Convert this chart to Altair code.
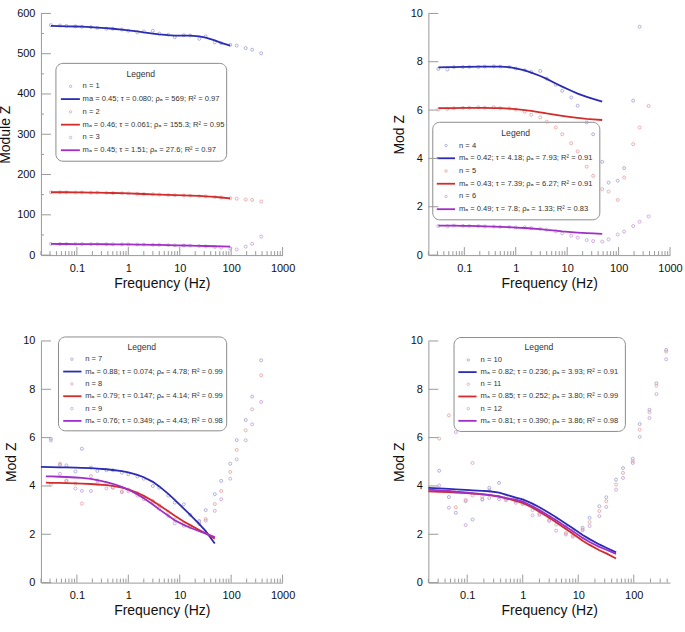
import altair as alt
import pandas as pd

FONT = "Liberation Sans, Arial, DejaVu Sans, sans-serif"

# measurement frequencies (Hz)
FREQ = [0.03125, 0.046875, 0.0625, 0.09375, 0.125, 0.1875, 0.25, 0.375, 0.5, 0.75,
        1, 1.5, 2, 3, 4, 6, 8, 12, 16, 24, 32, 48, 64, 96, 128, 192, 256, 384]
FIT_F96 = FREQ[:24]
FIT_F48 = FREQ[:22]
FIT_F48_A = [0.02] + FREQ[:22]
FIT_F48_B = [0.025] + FREQ[:22]

# ---------- panel 1 (Module Z) ----------
N1 = [571, 570, 569, 568, 567, 566, 564, 562, 562, 560, 557, 553, 555, 557, 550, 547, 541, 546, 545, 537, 543, 528, 526, 522, 520, 514, 510, 501]
N2 = [156, 156, 156, 155.5, 155.5, 155, 155, 154.5, 154, 153.5, 153, 152, 151.5, 151, 150, 149, 148.5, 148, 147.5, 146, 146, 144, 143, 141, 140, 138, 137, 133]
N3 = [27.8, 27.6, 27.6, 27.5, 27.4, 27.3, 27.2, 27.0, 26.9, 26.7, 26.5, 26.2, 25.9, 25.6, 25.2, 24.8, 24.3, 23.8, 23.3, 22.5, 21.5, 20, 18.5, 16, 14, 21, 28, 46]
FIT1 = [569, 568.5, 568, 567.5, 567, 566, 565, 563.5, 562, 560, 558, 555.5, 553, 550, 548, 546, 545, 545, 545, 543, 540, 533, 527, 520]
FIT2 = [156, 156, 156, 155.8, 155.6, 155.3, 155, 154.6, 154.2, 153.6, 153, 152.3, 151.7, 150.8, 150.2, 149.3, 148.7, 148, 147.5, 146.8, 146, 144.5, 143, 141]
FIT3 = [27.6, 27.5, 27.5, 27.4, 27.3, 27.2, 27.1, 26.9, 26.8, 26.6, 26.4, 26.1, 25.8, 25.4, 25.1, 24.6, 24.3, 23.8, 23.4, 22.9, 22.5, 21.9, 21.5, 21]

# ---------- panel 2 ----------
N4 = [7.70, 7.68, 7.78, 7.78, 7.79, 7.78, 7.80, 7.81, 7.80, 7.78, 7.72, 7.65, 7.58, 7.62, 7.30, 7.05, 6.80, 6.52, 6.18, 5.49, 5.00, 3.86, 3.00, 3.08, 3.60, 6.39, 9.45, None]
N5 = [6.02, 6.05, 6.08, 6.09, 6.10, 6.12, 6.10, 6.12, 6.08, 6.07, 6.02, 5.93, 5.81, 5.70, 5.52, 5.28, 5.00, 4.63, 4.29, 3.66, 3.28, 2.73, 2.63, 2.28, 3.21, 4.59, 5.28, 6.17]
N6 = [1.20, 1.19, 1.22, 1.21, 1.20, 1.20, 1.19, 1.18, 1.17, 1.16, 1.15, 1.15, 1.12, 1.08, 1.05, 0.98, 0.90, 0.80, 0.72, 0.62, 0.58, 0.56, 0.65, 0.85, 0.97, 1.20, 1.38, 1.60]
FIT4 = [7.77, 7.78, 7.78, 7.79, 7.79, 7.80, 7.80, 7.80, 7.80, 7.78, 7.73, 7.64, 7.55, 7.41, 7.29, 7.10, 6.97, 6.80, 6.68, 6.55, 6.46, 6.35]
FIT5 = [6.08, 6.08, 6.08, 6.09, 6.09, 6.09, 6.09, 6.08, 6.08, 6.06, 6.04, 6.00, 5.97, 5.91, 5.86, 5.80, 5.76, 5.71, 5.68, 5.64, 5.62, 5.59]
FIT6 = [1.22, 1.22, 1.22, 1.21, 1.21, 1.20, 1.19, 1.18, 1.17, 1.16, 1.14, 1.12, 1.10, 1.07, 1.04, 1.01, 0.98, 0.95, 0.93, 0.91, 0.90, 0.88]

# ---------- panel 3 ----------
N7 = [5.95, 4.87, 4.85, 4.60, 5.54, 4.76, 4.62, 4.65, 4.65, 4.55, 4.48, 4.39, 4.30, 4.00, 3.93, 3.60, 3.31, 3.24, 2.80, 2.55, 3.00, 3.66, 4.21, 4.92, 5.90, 6.73, 7.70, 9.20]
N8 = [4.05, 4.92, 4.23, 4.10, 3.27, 4.41, 4.23, 4.10, 3.93, 3.77, 3.85, 3.70, 3.55, 3.38, 3.20, 2.90, 2.60, 2.45, 2.35, 2.50, 2.63, 3.25, 3.79, 4.58, 5.49, 6.30, 7.17, 8.58]
N9 = [5.88, 4.50, 4.20, 3.89, 3.80, 3.79, 4.10, 3.90, 3.93, 3.74, 3.78, 3.60, 3.45, 3.30, 3.05, 2.75, 2.45, 2.35, 2.30, 2.42, 2.56, 2.97, 3.45, 4.30, 5.10, 5.89, 6.55, 7.48]
FIT7 = [4.79, 4.78, 4.77, 4.77, 4.76, 4.75, 4.74, 4.72, 4.69, 4.66, 4.61, 4.56, 4.46, 4.36, 4.17, 3.98, 3.67, 3.42, 3.06, 2.80, 2.42, 2.13, 1.62]
FIT8 = [4.14, 4.13, 4.13, 4.12, 4.11, 4.10, 4.08, 4.06, 4.03, 4.00, 3.93, 3.86, 3.72, 3.59, 3.38, 3.20, 2.95, 2.77, 2.53, 2.38, 2.18, 2.04, 1.82]
FIT9 = [4.40, 4.40, 4.38, 4.37, 4.35, 4.33, 4.29, 4.24, 4.16, 4.09, 3.96, 3.85, 3.65, 3.49, 3.23, 3.03, 2.77, 2.58, 2.39, 2.27, 2.13, 2.03, 1.88]

# ---------- panel 4 ----------
N10 = [4.63, 3.54, 2.89, 3.37, 2.61, 3.44, 3.92, 4.13, 3.55, 3.40, 3.35, 3.15, 2.95, 2.72, 2.61, 2.30, 2.15, 2.27, 2.68, 3.16, 3.53, 4.26, 4.74, 5.13, 6.56, 7.15, 8.25, 9.63]
N11 = [5.96, 6.92, 3.12, 3.42, 4.95, 3.55, 3.81, 3.55, 3.45, 3.37, 3.28, 3.00, 2.85, 2.60, 2.40, 2.05, 1.95, 2.16, 2.50, 2.96, 3.37, 4.06, 4.54, 5.02, 6.33, 7.05, 8.15, 9.56]
N12 = [4.02, 3.10, 6.23, 2.38, 3.60, 3.44, 3.50, 3.45, 3.40, 3.30, 3.25, 2.78, 2.80, 2.55, 2.15, 1.99, 1.90, 2.20, 2.34, 2.75, 3.13, 3.85, 4.33, 4.95, 6.03, 6.81, 7.80, 9.24]
FIT10 = [3.92, 3.90, 3.88, 3.86, 3.84, 3.82, 3.80, 3.78, 3.72, 3.64, 3.52, 3.44, 3.27, 3.12, 2.88, 2.70, 2.44, 2.25, 1.97, 1.80, 1.58, 1.44, 1.25]
FIT11 = [3.78, 3.76, 3.74, 3.72, 3.70, 3.68, 3.65, 3.62, 3.56, 3.49, 3.38, 3.30, 3.10, 2.93, 2.68, 2.50, 2.22, 2.02, 1.73, 1.56, 1.34, 1.21, 1.00]
FIT12 = [3.85, 3.82, 3.79, 3.76, 3.73, 3.70, 3.66, 3.63, 3.57, 3.50, 3.43, 3.35, 3.16, 3.00, 2.76, 2.58, 2.31, 2.12, 1.85, 1.68, 1.48, 1.36, 1.19]

# legend texts
LEG_TEXT = [
    ["n = 1", "ma = 0.45; τ = 0.080; ρₐ = 569; R² = 0.97", "n = 2", "mₐ = 0.46; τ = 0.061; ρₐ = 155.3; R² = 0.95", "n = 3", "mₐ = 0.45; τ = 1.51; ρₐ = 27.6; R² = 0.97"],
    ["n = 4", "mₐ = 0.42; τ = 4.18; ρₐ = 7.93; R² = 0.91", "n = 5", "mₐ = 0.43; τ = 7.39; ρₐ = 6.27; R² = 0.91", "n = 6", "mₐ = 0.49; τ = 7.8; ρₐ = 1.33; R² = 0.83"],
    ["n = 7", "mₐ = 0.88; τ = 0.074; ρₐ = 4.78; R² = 0.99", "n = 8", "mₐ = 0.79; τ = 0.147; ρₐ = 4.14; R² = 0.99", "n = 9", "mₐ = 0.76; τ = 0.349; ρₐ = 4.43; R² = 0.98"],
    ["n = 10", "mₐ = 0.82; τ = 0.236; ρₐ = 3.93; R² = 0.91", "n = 11", "mₐ = 0.85; τ = 0.252; ρₐ = 3.80; R² = 0.99", "n = 12", "mₐ = 0.81; τ = 0.390; ρₐ = 3.86; R² = 0.98"],
]

LINE_COLORS = ["#2b2bb3", "#d42b2b", "#a02fc6"]
PT_COLORS = ["#9a9ad0", "#e09c9c", "#c29ad4"]
AX = "#9a9a9a"

W, H = 242, 242

LEG = [
    dict(box=(15, 50, 186, 148), title=(100, 61), row0=73, step=12.8, line=(20, 39), pt=29.7, tx=41.7),
    dict(box=(4.4, 109, 171.7, 206.7), title=(87.4, 119.7), row0=132.3, step=12.75, line=(8.4, 26.7), pt=17.7, tx=30.7),
    dict(box=(17.6, -4, 186, 90), title=(101, 6), row0=18.3, step=12.35, line=(22.3, 40.6), pt=31, tx=44.3),
    dict(box=(25.7, -3.4, 197.3, 90.6), title=(110.7, 6.3), row0=19, step=12.2, line=(30, 48.3), pt=40, tx=52.3),
]

ONE = pd.DataFrame({"k": [0]})


def panel(xdom, ydom, yvals, yminor, ytitle, xlabels, pts, fits, leg, texts):
    xscale = alt.Scale(type="log", domain=xdom, nice=False)
    yscale = alt.Scale(domain=ydom, nice=False, zero=False)
    xaxis = alt.Axis(values=xlabels, format=".4~f", title="Frequency (Hz)")
    yaxis = alt.Axis(values=yvals, format="d", title=ytitle)

    def X(field):
        return alt.X(field, type="quantitative", scale=xscale, axis=xaxis)

    def Y(field):
        return alt.Y(field, type="quantitative", scale=yscale, axis=yaxis)

    layers = []
    # legend box
    bx1, by1, bx2, by2 = leg["box"]
    layers.append(alt.Chart(ONE).mark_rect(fill="white", stroke="#8c8c8c", strokeWidth=1, cornerRadius=7).encode(
        x=alt.value(bx1), x2=alt.value(bx2), y=alt.value(by1), y2=alt.value(by2)))
    layers.append(alt.Chart(ONE).mark_text(text="Legend", font=FONT, fontSize=8.6, color="#333", align="center", baseline="middle").encode(
        x=alt.value(leg["title"][0]), y=alt.value(leg["title"][1])))
    for i, t in enumerate(texts):
        yy = leg["row0"] + i * leg["step"]
        s = i // 2
        if i % 2 == 0:
            layers.append(alt.Chart(ONE).mark_point(shape="circle", filled=False, size=6, strokeWidth=0.8, color=PT_COLORS[s], opacity=0.9).encode(
                x=alt.value(leg["pt"]), y=alt.value(yy)))
        else:
            layers.append(alt.Chart(ONE).mark_rule(color=LINE_COLORS[s], strokeWidth=1.8).encode(
                x=alt.value(leg["line"][0]), x2=alt.value(leg["line"][1]), y=alt.value(yy)))
        layers.append(alt.Chart(ONE).mark_text(text=t, font=FONT, fontSize=7.6, color="#333", align="left", baseline="middle").encode(
            x=alt.value(leg["tx"]), y=alt.value(yy)))

    # inward ticks
    ytk = pd.DataFrame({"t": yvals})
    layers.append(alt.Chart(ytk).mark_rule(color=AX, strokeWidth=1).encode(y=Y("t"), x=alt.value(0), x2=alt.value(10)))
    if yminor:
        ymn = pd.DataFrame({"t": yminor})
        layers.append(alt.Chart(ymn).mark_rule(color=AX, strokeWidth=1).encode(y=Y("t"), x=alt.value(0), x2=alt.value(3)))
    majors = [d for d in [0.01, 0.1, 1, 10, 100, 1000] if xdom[0] <= d <= xdom[1]]
    minors = [m * d for d in [0.01, 0.1, 1, 10, 100] for m in range(2, 10) if xdom[0] <= m * d <= xdom[1]]
    layers.append(alt.Chart(pd.DataFrame({"t": majors})).mark_rule(color=AX, strokeWidth=1).encode(
        x=X("t"), y=alt.value(H), y2=alt.value(H - 8)))
    layers.append(alt.Chart(pd.DataFrame({"t": minors})).mark_rule(color=AX, strokeWidth=1).encode(
        x=X("t"), y=alt.value(H), y2=alt.value(H - 4)))

    # data points
    for s, vals in enumerate(pts):
        df = pd.DataFrame({"f": FREQ, "v": vals}).dropna()
        layers.append(alt.Chart(df).mark_point(shape="circle", filled=False, size=9, strokeWidth=0.9,
                                               color=PT_COLORS[s], opacity=0.85).encode(x=X("f"), y=Y("v")))
    # fitted curves
    for s, (ff, vals) in enumerate(fits):
        df = pd.DataFrame({"f": ff, "v": vals})
        layers.append(alt.Chart(df).mark_line(color=LINE_COLORS[s], strokeWidth=1.8).encode(x=X("f"), y=Y("v")))

    return alt.layer(*layers).properties(width=W, height=H)


p1 = panel([0.02, 1000], [0, 600], [0, 100, 200, 300, 400, 500, 600], [50, 150, 250, 350, 450, 550], "Module Z",
           [0.1, 1, 10, 100, 1000], [N1, N2, N3], [(FIT_F96, FIT1), (FIT_F96, FIT2), (FIT_F96, FIT3)], LEG[0], LEG_TEXT[0])
p2 = panel([0.02, 1000], [0, 10], [0, 2, 4, 6, 8, 10], [], "Mod Z",
           [0.1, 1, 10, 100, 1000], [N4, N5, N6], [(FIT_F48, FIT4), (FIT_F48, FIT5), (FIT_F48, FIT6)], LEG[1], LEG_TEXT[1])
p3 = panel([0.02, 1000], [0, 10], [0, 2, 4, 6, 8, 10], [], "Mod Z",
           [0.1, 1, 10, 100, 1000], [N7, N8, N9], [(FIT_F48_A, FIT7), (FIT_F48_B, FIT8), (FIT_F48_B, FIT9)], LEG[2], LEG_TEXT[2])
p4 = panel([0.02, 450], [0, 10], [0, 2, 4, 6, 8, 10], [], "Mod Z",
           [0.1, 1, 10, 100], [N10, N11, N12], [(FIT_F48_A, FIT10), (FIT_F48_A, FIT11), (FIT_F48_A, FIT12)], LEG[3], LEG_TEXT[3])

top = alt.hconcat(p1, p2, spacing=96)
bot = alt.hconcat(p3, p4, spacing=96)
chart = alt.vconcat(top, bot, spacing=45).properties(
    padding={"left": -2, "top": 7, "right": 2, "bottom": 2}
).configure_view(stroke=None).configure_axis(
    grid=False, ticks=False, domainColor=AX, domainWidth=1,
    labelFont=FONT, labelFontSize=11, labelColor="#111", labelPadding=6, labelFlush=False, labelOverlap=False,
    titleFont=FONT, titleFontSize=14, titleFontWeight="normal", titleColor="#111", titlePadding=4,
).configure_axisX(labelPadding=7, titlePadding=3)

chart.save("out.html", embed_options={"renderer": "svg", "actions": False})
